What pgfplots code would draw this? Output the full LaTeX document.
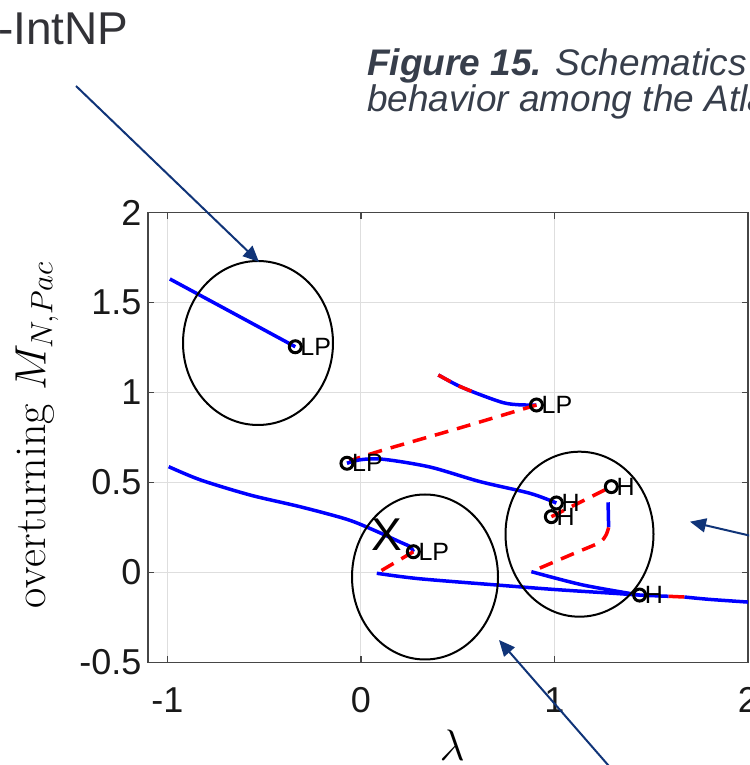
\RequirePackage{fix-cm}
\documentclass[border=0pt]{standalone}
\usepackage{pgfplots}
\pgfplotsset{compat=1.18}
\usepackage{fontspec}
\newfontfamily\arial{Liberation Sans}
\usetikzlibrary{arrows.meta}
\definecolor{navy}{RGB}{16,52,120}
\definecolor{txtgray}{RGB}{50,50,55}
\definecolor{capgray}{RGB}{55,62,75}
\definecolor{gridgray}{RGB}{222,222,222}
\definecolor{axgray}{RGB}{70,70,70}
\begin{document}
\begin{tikzpicture}[x=1pt,y=1pt]
\useasboundingbox (0,0) rectangle (749,765);
\clip (0,0) rectangle (749,765);
\begin{axis}[
  at={(148pt,102.7pt)}, anchor=south west,
  scale only axis, width=600pt, height=449.5pt,
  xmin=-1.1, xmax=2, ymin=-0.5, ymax=2,
  xtick={-1,0,1,2}, xticklabels={-1,0,1,2},
  ytick={-0.5,0,0.5,1,1.5,2}, yticklabels={-0.5,0,0.5,1,1.5,2},
  grid=major, major grid style={gridgray, line width=1pt},
  axis line style={axgray, line width=1.3pt},
  tick style={axgray, line width=1.3pt}, major tick length=6pt, tick align=inside,
  /pgf/number format/assume math mode=true,
  ticklabel style={font=\arial\fontsize{36}{36}\selectfont, text=black!90},
  xticklabel style={anchor=north, yshift=-22pt},
  yticklabel style={anchor=east, xshift=-3pt},
  xlabel={$\lambda$},
  ylabel={$\mathrm{overturning}\ M_{N,Pac}$},
  xlabel style={font=\fontsize{44}{44}\selectfont, at={(axis description cs:0.507,-0.184)}, anchor=center},
  ylabel style={font=\fontsize{44}{44}\selectfont, at={(axis description cs:-0.185,0.505)}, anchor=center},
  blueline/.style={blue, line width=3.5pt, no marks, smooth, tension=0.5},
  reddash/.style={red, line width=3.5pt, no marks, smooth, tension=0.5, dash pattern=on 14pt off 9pt},
]
% curve A
\addplot[blueline] coordinates {(-0.987,1.632) (-0.66,1.442) (-0.339,1.255)};
% curve B
\addplot[blueline] coordinates {(0.4,1.098) (0.5,1.04) (0.598,0.996) (0.735,0.944) (0.82,0.932) (0.907,0.931)};
\addplot[reddash] coordinates {(0.4,1.098) (0.5,1.04) (0.598,0.996)};
% curve C
\addplot[reddash] coordinates {(0.907,0.931) (0.5,0.80) (0.117,0.681) (-0.06,0.62)};
% curve D
\addplot[blueline] coordinates {(-0.072,0.607) (0.0,0.627) (0.117,0.629) (0.357,0.586) (0.615,0.505) (0.873,0.44) (1.01,0.386)};
% curve E
\addplot[reddash] coordinates {(0.984,0.31) (1.294,0.477)};
% curve F
\addplot[blueline] coordinates {(1.277,0.39) (1.28,0.25)};
\addplot[reddash] coordinates {(1.28,0.25) (1.265,0.205) (1.23,0.165) (1.1,0.105) (0.881,0.004)};
% curve G
\addplot[blueline] coordinates {(0.881,0.004) (1.147,-0.07) (1.44,-0.126)};
% curve H
\addplot[blueline] coordinates {(0.082,-0.005) (0.3,-0.035) (0.701,-0.07) (1.0,-0.095) (1.302,-0.116) (1.44,-0.126) (1.59,-0.133)};
\addplot[red, line width=3.5pt, no marks] coordinates {(1.59,-0.133) (1.672,-0.137)};
\addplot[blueline] coordinates {(1.672,-0.137) (1.8,-0.15) (2.0,-0.165)};
% curve I
\addplot[blueline] coordinates {(-0.993,0.588) (-0.828,0.514) (-0.571,0.43) (-0.313,0.365) (-0.072,0.295) (0.065,0.236) (0.2,0.17) (0.254,0.143) (0.271,0.115)};
% curve J
\addplot[reddash] coordinates {(0.271,0.115) (0.082,-0.005)};
% bifurcation points
\addplot[only marks, mark=o, mark size=6pt, mark options={black, line width=3pt}] coordinates {
 (-0.339,1.255) (0.907,0.931) (-0.072,0.607) (0.271,0.115)
 (1.01,0.386) (0.984,0.31) (1.294,0.477) (1.44,-0.126)};
\begin{scope}[every node/.style={font=\arial\fontsize{25}{25}\selectfont, anchor=west, inner sep=0pt, xshift=5pt}]
\node at (axis cs:-0.339,1.255) {LP};
\node at (axis cs:0.907,0.931) {LP};
\node at (axis cs:-0.072,0.607) {LP};
\node at (axis cs:0.271,0.115) {LP};
\node at (axis cs:1.01,0.386) {H};
\node at (axis cs:0.984,0.31) {H};
\node at (axis cs:1.294,0.477) {H};
\node at (axis cs:1.44,-0.126) {H};
\end{scope}
\end{axis}
% annotations
\node[font=\arial\fontsize{46}{46}\selectfont] at (386.7,230) {X};
\draw[black, line width=2pt] (258,422) ellipse [x radius=75, y radius=82];
\draw[black, line width=2pt] (425,188) ellipse [x radius=73, y radius=82.5];
\draw[black, line width=2pt] (579.5,230.8) ellipse [x radius=74, y radius=82.5];
\draw[navy, line width=2pt, -{Triangle[length=16pt,width=14pt]}] (76,679) -- (259,503);
\draw[navy, line width=2pt, -{Triangle[length=16pt,width=14pt]}] (790,220) -- (690,243.3);
\draw[navy, line width=2pt, -{Triangle[length=16pt,width=14pt]}] (615,-8) -- (499,125);
\node[anchor=base west, inner sep=0pt, text=txtgray, font=\arial\fontsize{46}{46}\selectfont] at (-2,720) {-IntNP};
\node[anchor=base west, inner sep=0pt, text=capgray, font=\arial\fontsize{37}{37}\selectfont\itshape] at (367,689) {\textbf{Figure 15.} Schematics of the};
\node[anchor=base west, inner sep=0pt, text=capgray, font=\arial\fontsize{37}{37}\selectfont\itshape] at (367,653) {behavior among the Atlantic};
\end{tikzpicture}
\end{document}
